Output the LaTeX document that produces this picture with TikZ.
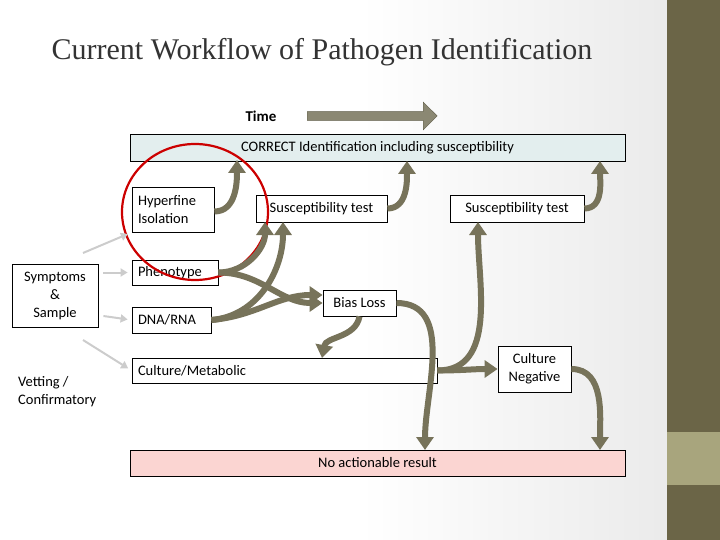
\documentclass[tikz,border=0pt]{standalone}
\usepackage{fontspec}
\setmainfont{Carlito}
\newfontfamily\titlefont{Liberation Serif}
\usetikzlibrary{arrows.meta,shapes.arrows}
\definecolor{olv}{HTML}{77735A}
\definecolor{side}{HTML}{6B6547}
\definecolor{sidel}{HTML}{A8A57D}
\definecolor{topbox}{HTML}{E3EEEE}
\definecolor{pinkbox}{HTML}{FBD5D2}
\tikzset{
 bx/.style={draw=black, fill=white, line width=0.8pt, inner sep=0pt, font=\fontsize{14.5}{18}\selectfont, align=center},
 lb/.style={align=left, inner xsep=6pt},
 fl/.style={draw=olv, line width=6pt, -{Triangle[width=17pt,length=13pt]}},
 gl/.style={draw=black!20, line width=2pt, shorten >=4pt, -{Triangle[width=8pt,length=7pt]}},
}
\begin{document}
\begin{tikzpicture}[x=1pt,y=-1pt]
\useasboundingbox (0,0) rectangle (720,540);
\shade[left color=white, right color=black!8] (360,0) rectangle (667,540);
\fill[side] (667,0) rectangle (720,540);
\fill[sidel] (667,432) rectangle (720,485);
\node[font=\titlefont\fontsize{30}{34}\selectfont, text=black!80] (title) at (322,52) {Current Workflow of Pathogen Identification};
\node[font=\bfseries\fontsize{15}{18}\selectfont] (time) at (261,116) {Time};
\node[single arrow, draw=olv!80!black, fill=olv!85, minimum height=130pt, minimum width=28pt, single arrow head extend=6pt, inner sep=2.5pt, anchor=west] (tarr) at (307,116) {};
\node[bx, fill=topbox, minimum width=495pt, minimum height=27pt] (correct) at (377.5,147.5) {CORRECT Identification including susceptibility};
\node[bx, lb, minimum width=82pt, minimum height=45pt, text width=70pt] (hyp) at (173,209.5) {Hyperfine\\Isolation};
\node[bx, minimum width=131pt, minimum height=27pt] (s1) at (321.5,208.5) {Susceptibility test};
\node[bx, minimum width=134pt, minimum height=27pt] (s2) at (517,208.5) {Susceptibility test};
\node[bx, lb, minimum width=86pt, minimum height=25pt, text width=74pt] (phen) at (175,272.5) {Phenotype};
\node[bx, minimum width=73pt, minimum height=26pt] (bias) at (359.5,303) {Bias Loss};
\node[bx, lb, minimum width=79pt, minimum height=26pt, text width=67pt] (dna) at (171.5,320) {DNA/RNA};
\node[bx, lb, minimum width=305pt, minimum height=25pt, text width=293pt] (cult) at (284.5,370.5) {Culture/Metabolic};
\node[bx, minimum width=73pt, minimum height=46pt] (cneg) at (534.5,369) {Culture\\Negative};
\node[bx, fill=pinkbox, minimum width=495pt, minimum height=26pt] (none) at (377.5,463) {No actionable result};
\node[bx, minimum width=86pt, minimum height=63pt] (symp) at (55,295.5) {Symptoms\\\&\\Sample};
\node[font=\fontsize{14.5}{18}\selectfont, align=left, anchor=west, inner sep=0pt] (vet) at (18,392) {Vetting /\\Confirmatory};
\draw[red!80!black, line width=2.2pt] (195,212) ellipse [x radius=73pt, y radius=68pt];
% grey
\draw[gl] (83,253) -- (hyp.south west);
\draw[gl] (symp.east |- phen) ++(5,0) -- (phen.west);
\draw[gl] (symp.east |- dna) ++(5,-4) -- (dna.west);
\draw[gl] (83,340) -- (cult.west);
% flows
\draw[fl] (hyp.east) ++(0,2) to[out=0,in=-90] (237,160);
\draw[fl] (s1.east) to[out=0,in=-90] (407,161);
\draw[fl] (s2.east) to[out=0,in=-90] (600,161);
\draw[fl] (phen.east) to[out=0,in=-90] (265,222);
\draw[fl] (phen.east) to[out=0,in=180] (bias.west);
\draw[fl] (dna.east) to[out=5,in=-90] (283,222);
\draw[fl] (dna.east) to[out=5,in=180] ([yshift=8pt]bias.west);
\draw[fl] (bias.south) to[out=-100,in=80] (322,358);
\draw[fl] (bias.east) to[out=0,in=90] (425,450);
\draw[fl] (cult.east) to[out=0,in=-90] (478,222);
\draw[fl] (cult.east) to[out=0,in=180] (cneg.west);
\draw[fl] (cneg.east) to[out=0,in=90] (600,450);
\end{tikzpicture}
\end{document}
